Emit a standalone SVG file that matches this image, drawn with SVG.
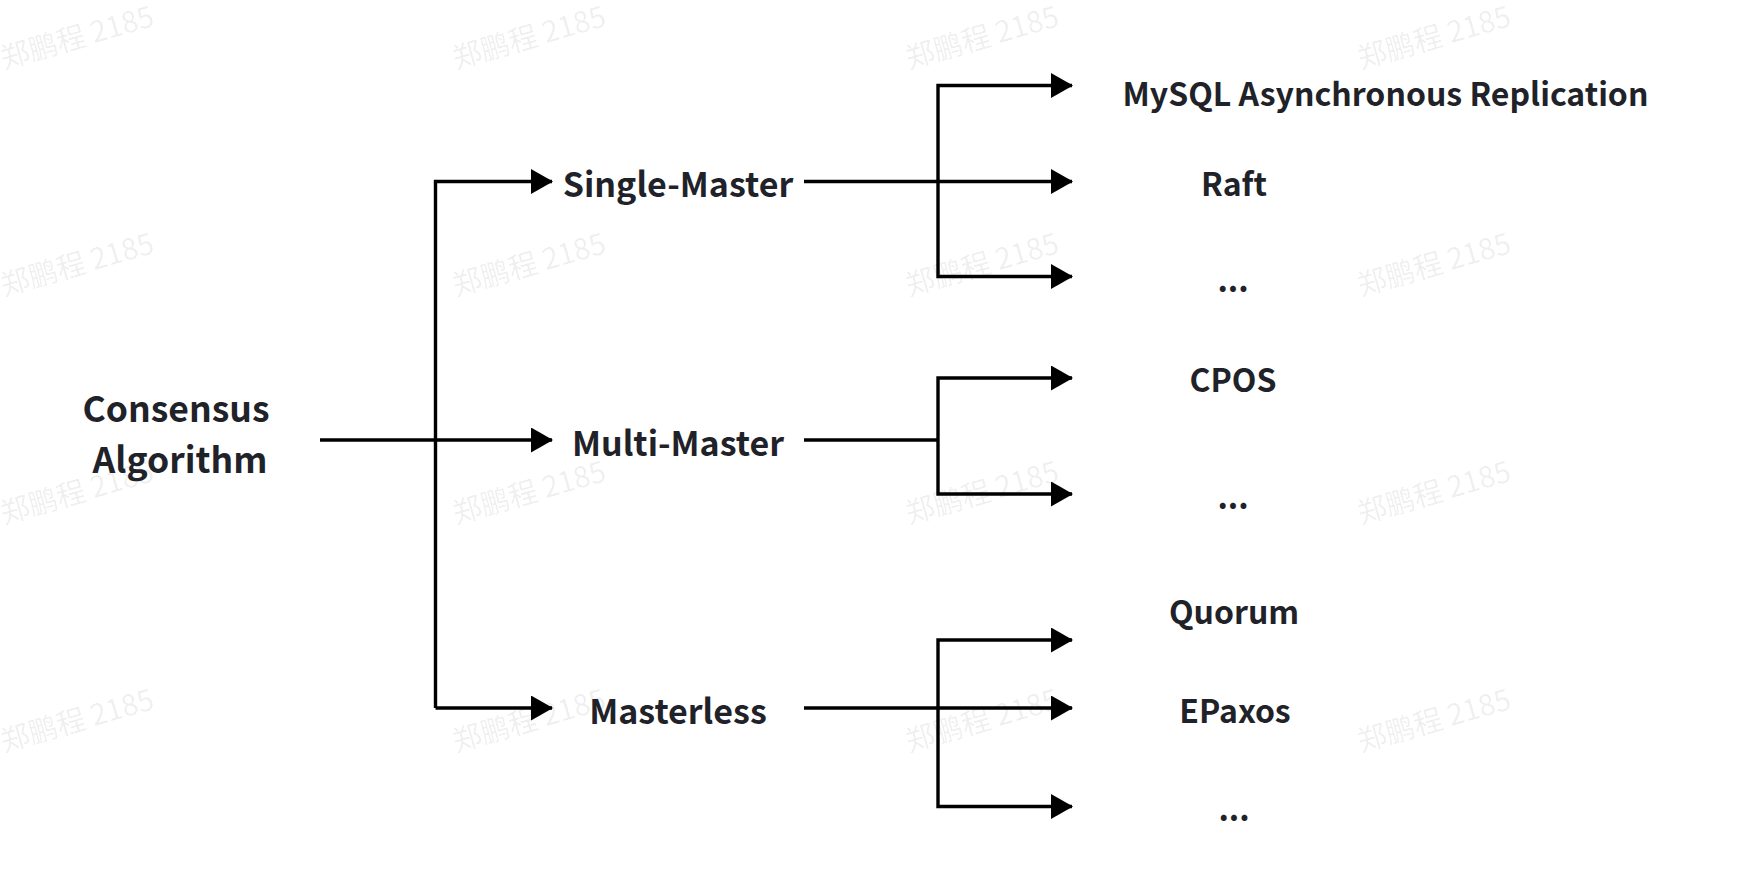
<svg xmlns="http://www.w3.org/2000/svg" width="1742" height="894" viewBox="0 0 1742 894">
<style>
.t{font-family:"Noto Sans CJK SC","Source Sans Pro","Liberation Sans",sans-serif;font-weight:700;fill:#1f2329;text-anchor:middle}
.l{font-size:35.5px}
.m{font-size:34px}
.r{font-size:32px}
.w{font-family:"Noto Sans CJK SC","Liberation Sans",sans-serif;font-size:29px;fill:#000;fill-opacity:0.07}
.c{fill:none;stroke:#000;stroke-width:3.4}
</style>
<defs>
<marker id="ah" markerWidth="22" markerHeight="25" refX="21" refY="12.5" orient="auto" markerUnits="userSpaceOnUse">
<path d="M0,0 L22,12.5 L0,25 Z" fill="#000"/>
</marker>
</defs>
<rect width="1742" height="894" fill="#fff"/>
<g id="watermarks">
<text class="w" transform="translate(4,69) rotate(-16)">郑鹏程 2185</text>
<text class="w" transform="translate(456,69) rotate(-16)">郑鹏程 2185</text>
<text class="w" transform="translate(909,69) rotate(-16)">郑鹏程 2185</text>
<text class="w" transform="translate(1361,69) rotate(-16)">郑鹏程 2185</text>
<text class="w" transform="translate(4,296) rotate(-16)">郑鹏程 2185</text>
<text class="w" transform="translate(456,296) rotate(-16)">郑鹏程 2185</text>
<text class="w" transform="translate(909,296) rotate(-16)">郑鹏程 2185</text>
<text class="w" transform="translate(1361,296) rotate(-16)">郑鹏程 2185</text>
<text class="w" transform="translate(4,524) rotate(-16)">郑鹏程 2185</text>
<text class="w" transform="translate(456,524) rotate(-16)">郑鹏程 2185</text>
<text class="w" transform="translate(909,524) rotate(-16)">郑鹏程 2185</text>
<text class="w" transform="translate(1361,524) rotate(-16)">郑鹏程 2185</text>
<text class="w" transform="translate(4,752) rotate(-16)">郑鹏程 2185</text>
<text class="w" transform="translate(456,752) rotate(-16)">郑鹏程 2185</text>
<text class="w" transform="translate(909,752) rotate(-16)">郑鹏程 2185</text>
<text class="w" transform="translate(1361,752) rotate(-16)">郑鹏程 2185</text>
</g>
<g id="connectors">
<path class="c" d="M320,440 H552" marker-end="url(#ah)"/>
<path class="c" d="M435.5,708 V181.5 H552" marker-end="url(#ah)"/>
<path class="c" d="M435.5,708 H552" marker-end="url(#ah)"/>
<path class="c" d="M804,181.5 H1072" marker-end="url(#ah)"/>
<path class="c" d="M938,181.5 V85.5 H1072" marker-end="url(#ah)"/>
<path class="c" d="M938,181.5 V276.5 H1072" marker-end="url(#ah)"/>
<path class="c" d="M804,440 H938"/>
<path class="c" d="M938,440 V378 H1072" marker-end="url(#ah)"/>
<path class="c" d="M938,440 V494 H1072" marker-end="url(#ah)"/>
<path class="c" d="M804,708 H1072" marker-end="url(#ah)"/>
<path class="c" d="M938,708 V640 H1072" marker-end="url(#ah)"/>
<path class="c" d="M938,708 V806.5 H1072" marker-end="url(#ah)"/>
</g>
<g id="consensus"><text class="t l" x="176" y="422">Consensus</text><text class="t l" x="180" y="473">Algorithm</text></g>
<g id="single-master"><text class="t m" x="678" y="197">Single-Master</text></g>
<g id="multi-master"><text class="t m" x="678" y="455.5">Multi-Master</text></g>
<g id="masterless"><text class="t m" x="678" y="723.5">Masterless</text></g>
<g id="mysql"><text class="t r" x="1385.5" y="106">MySQL Asynchronous Replication</text></g>
<g id="raft"><text class="t r" x="1234" y="196">Raft</text></g>
<g id="etc1"><text class="t r" x="1233" y="292">...</text></g>
<g id="cpos"><text class="t r" x="1233" y="392">CPOS</text></g>
<g id="etc2"><text class="t r" x="1233" y="509">...</text></g>
<g id="quorum"><text class="t r" x="1234" y="624">Quorum</text></g>
<g id="epaxos"><text class="t r" x="1235" y="723">EPaxos</text></g>
<g id="etc3"><text class="t r" x="1234" y="821">...</text></g>
</svg>
